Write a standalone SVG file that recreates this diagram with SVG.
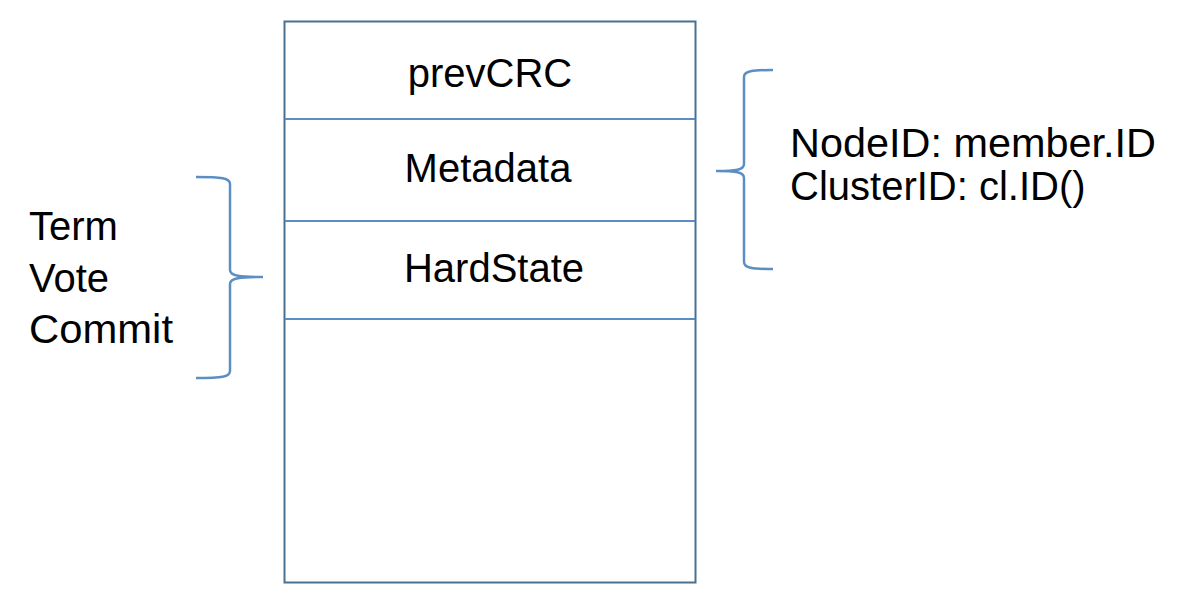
<svg xmlns="http://www.w3.org/2000/svg" width="1184" height="604" viewBox="0 0 1184 604">
<style>
.t{font-family:"Liberation Sans",Arial,sans-serif;font-size:40px;fill:#000}
.c{text-anchor:middle}
.div{stroke:#5B8FC4;stroke-width:2;fill:none}
.brace{stroke:#5B8FC4;stroke-width:2.5;fill:none}
</style>
<rect width="1184" height="604" fill="#fff"/>
<g id="record">
<rect x="284.5" y="21.5" width="411" height="561" fill="#fff" stroke="#4A7191" stroke-width="2"/>
</g>
<g id="connectors">
<line class="div" x1="285" y1="119" x2="695" y2="119"/>
<line class="div" x1="285" y1="221" x2="695" y2="221"/>
<line class="div" x1="285" y1="319" x2="695" y2="319"/>
</g>
<g id="prevCRC"><text class="t c" x="490" y="87">prevCRC</text></g>
<g id="metadata"><text class="t c" x="488" y="182">Metadata</text></g>
<g id="hardstate"><text class="t c" x="494" y="282">HardState</text></g>
<g id="left-brace">
<path class="brace" d="M196,177 C222,177 230,178 230,184 L230,270 C230,276 240,277 263,277 C240,277 230,278 230,284 L230,371 C230,377 222,378 196,378"/>
</g>
<g id="right-brace">
<path class="brace" d="M773,70 C752,70 744,71 744,77 L744,164 C744,170 736,171 716,171 C736,171 744,172 744,178 L744,262 C744,268 752,269 773,269"/>
</g>
<g id="hardstate-fields">
<text class="t" x="29" y="240">Term</text>
<text class="t" x="29" y="292">Vote</text>
<text class="t" x="29" y="343" textLength="144" lengthAdjust="spacingAndGlyphs">Commit</text>
</g>
<g id="metadata-fields">
<text class="t" x="790" y="157" textLength="366" lengthAdjust="spacingAndGlyphs">NodeID: member.ID</text>
<text class="t" x="790" y="200">ClusterID: cl.ID()</text>
</g>
</svg>
